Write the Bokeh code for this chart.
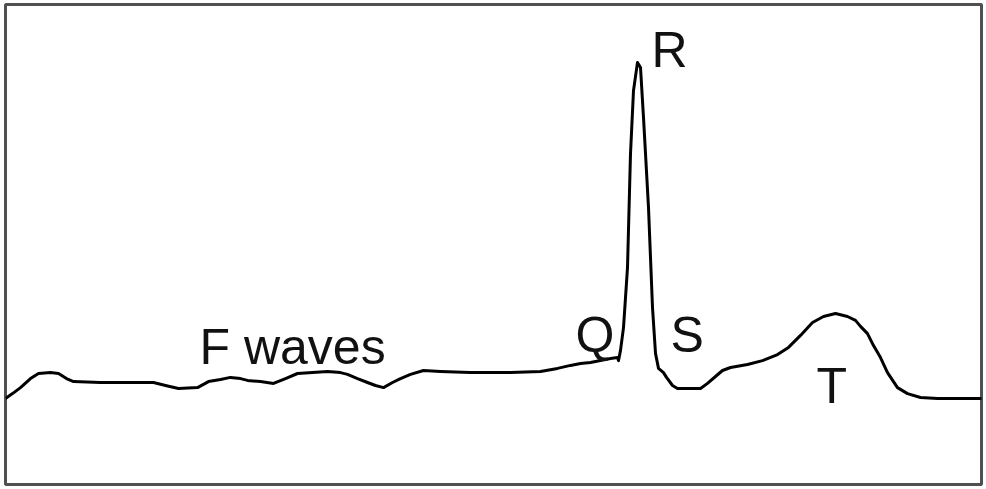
from bokeh.plotting import figure
from bokeh.models import Range1d, ColumnDataSource
from bokeh.core.properties import value
from bokeh.embed import file_html
from bokeh.resources import INLINE

# ECG trace: time (ms) and amplitude (mV)
time_ms = [0, 7, 15, 25, 33, 45, 53, 61, 68, 95, 125, 148, 160, 173, 192, 203, 215, 225, 235,
           242, 255, 268, 280, 292, 307, 322, 335, 342, 352, 362, 370, 378, 387, 395, 405, 418,
           435, 465, 505, 535, 552, 565, 575, 585, 595, 605, 612, 613, 615, 618, 622, 625, 628,
           632, 635, 638, 643, 647, 650, 653, 658, 661, 667, 672, 677, 695, 702, 710, 717, 725,
           742, 757, 772, 783, 795, 807, 818, 830, 842, 850, 855, 862, 868, 875, 882, 892, 902,
           915, 932, 955, 980]
amp_mv = [-0.033, -0.017, 0.003, 0.033, 0.050, 0.053, 0.050, 0.033, 0.023, 0.020, 0.020, 0.020,
          0.010, 0.000, 0.003, 0.023, 0.030, 0.037, 0.033, 0.027, 0.023, 0.017, 0.033, 0.050,
          0.053, 0.057, 0.053, 0.047, 0.033, 0.020, 0.010, 0.003, 0.020, 0.033, 0.047, 0.060,
          0.057, 0.053, 0.053, 0.057, 0.067, 0.077, 0.083, 0.087, 0.093, 0.100, 0.103, 0.093,
          0.127, 0.203, 0.403, 0.783, 0.993, 1.087, 1.070, 0.903, 0.603, 0.270, 0.117, 0.067,
          0.053, 0.037, 0.010, 0.000, 0.000, 0.000, 0.017, 0.040, 0.060, 0.070, 0.080, 0.093,
          0.113, 0.137, 0.177, 0.220, 0.240, 0.250, 0.240, 0.227, 0.207, 0.183, 0.143, 0.103,
          0.053, 0.003, -0.017, -0.030, -0.033, -0.033, -0.033]

# Wave labels
label_text = ["F waves", "Q", "R", "S", "T"]
label_time = [194, 570, 646, 665, 811]
label_amp = [0.137, 0.180, 1.127, 0.180, 0.010]

p = figure(width=984, height=487, output_backend="svg", toolbar_location=None,
           x_range=Range1d(0, 976), y_range=Range1d(-0.32, 1.28),
           min_border_left=5, min_border_right=3,
           min_border_top=4, min_border_bottom=3)
p.axis.visible = False
p.grid.visible = False
p.outline_line_color = "#505050"
p.outline_line_width = 3
p.background_fill_color = "white"
p.border_fill_color = "white"

p.line(time_ms, amp_mv, line_color="black", line_width=3, line_join="round")

src = ColumnDataSource(dict(x=label_time, y=label_amp, t=label_text))
p.text(x="x", y="y", text="t", source=src, text_font=value("Liberation Sans"),
       text_font_size="50px", text_color="#111111", text_baseline="alphabetic",
       text_align="left")

open("out.html", "w").write(file_html(p, INLINE))
